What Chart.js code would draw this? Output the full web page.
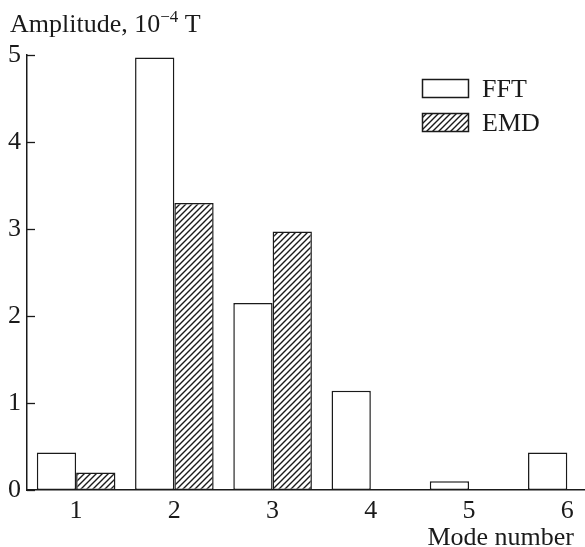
<!DOCTYPE html>
<html>
<head>
<meta charset="utf-8">
<script src="https://cdn.jsdelivr.net/npm/chart.js@4.4.1/dist/chart.umd.min.js"></script>
<style>
  html, body { margin: 0; padding: 0; background: #fff; }
  #wrap { width: 585px; height: 547px; position: relative; }
</style>
</head>
<body>
<div id="wrap"><canvas id="chart"></canvas></div>
<script>
const MODES = [1, 2, 3, 4, 5, 6];
const FFT = [0.43, 4.97, 2.15, 1.14, 0.10, 0.43];
const EMD = [0.20, 3.30, 2.97, 0, 0, 0];
const Y_TICKS = [0, 1, 2, 3, 4, 5];

const FONT = '"Liberation Serif", "Times New Roman", serif';
const INK = '#1a1a1a';

// diagonal hatch for the EMD bars
function hatch() {
    const c = document.createElement('canvas');
    c.width = 6; c.height = 6;
    const g = c.getContext('2d');
    g.fillStyle = '#fff';
    g.fillRect(0, 0, 6, 6);
    g.strokeStyle = INK;
    g.lineWidth = 1.4;
    g.beginPath();
    g.moveTo(-1, 7); g.lineTo(7, -1);
    g.moveTo(-4, 4); g.lineTo(4, -4);
    g.moveTo(2, 10); g.lineTo(10, 2);
    g.stroke();
    return g.createPattern(c, 'repeat');
}

const ctx = document.getElementById('chart').getContext('2d');
const hatchFill = hatch();

const extras = {
    id: 'extras',
    afterDraw(chart) {
        const c = chart.ctx;
        const y = chart.scales.y;
        c.save();
        // inward tick marks on the y axis
        c.strokeStyle = INK;
        c.lineWidth = 1.3;
        Y_TICKS.forEach(v => {
            const py = Math.round(y.getPixelForValue(v)) + 0.5;
            c.beginPath();
            c.moveTo(y.right, py);
            c.lineTo(y.right + 8, py);
            c.stroke();
        });

        // axis title with superscript
        c.fillStyle = INK;
        c.textBaseline = 'alphabetic';
        c.textAlign = 'left';
        c.font = '26px ' + FONT;
        let x = 10;
        const base = 32;
        c.fillText('Amplitude, 10', x, base);
        x += c.measureText('Amplitude, 10').width;
        c.font = '17px ' + FONT;
        c.fillText('\u22124', x, base - 10);
        x += c.measureText('\u22124').width;
        c.font = '26px ' + FONT;
        c.fillText(' T', x, base);

        // x axis title
        c.textAlign = 'right';
        c.fillText('Mode number', 574, 545);

        // legend
        c.textAlign = 'left';
        c.textBaseline = 'middle';
        chart.data.datasets.forEach((ds, i) => {
            const bx = 422, by = 79 + i * 34;
            c.fillStyle = ds.backgroundColor;
            c.fillRect(bx, by, 47, 19);
            c.lineWidth = 1.5;
            c.strokeStyle = INK;
            c.strokeRect(bx + 0.5, by + 0.5, 46, 18);
            c.fillStyle = INK;
            c.fillText(ds.label, 482, by + 11);
        });
        c.restore();
    }
};

new Chart(ctx, {
    type: 'bar',
    data: {
        datasets: [
            {
                label: 'FFT',
                data: MODES.map((m, i) => ({ x: m, y: FFT[i] })),
                backgroundColor: '#ffffff',
                borderColor: INK,
                borderWidth: 1.5,
                borderSkipped: false
            },
            {
                label: 'EMD',
                data: MODES.map((m, i) => ({ x: m, y: EMD[i] })),
                backgroundColor: hatchFill,
                borderColor: INK,
                borderWidth: 1.5,
                borderSkipped: false
            }
        ]
    },
    options: {
        responsive: true,
        maintainAspectRatio: false,
        animation: false,
        layout: { padding: { top: 55, right: 0, left: 0, bottom: 0 } },
        datasets: { bar: { categoryPercentage: 0.8, barPercentage: 1 } },
        scales: {
            x: {
                type: 'linear',
                offset: false,
                min: 0.5,
                max: 6.18,
                afterBuildTicks: axis => { axis.ticks = MODES.map(v => ({ value: v })); },
                afterFit: axis => { axis.height = 57; },
                grid: { display: false, drawTicks: false },
                border: { display: true, color: INK, width: 1.5 },
                ticks: {
                    color: INK,
                    font: { family: FONT, size: 26 },
                    padding: 6,
                    maxRotation: 0,
                    autoSkip: false
                }
            },
            y: {
                min: 0,
                max: 5,
                afterBuildTicks: axis => { axis.ticks = Y_TICKS.map(v => ({ value: v })); },
                afterFit: axis => { axis.width = 27; },
                grid: { display: false, drawTicks: false },
                border: { display: true, color: INK, width: 1.5 },
                ticks: {
                    color: INK,
                    font: { family: FONT, size: 26 },
                    padding: 6
                }
            }
        },
        plugins: {
            legend: { display: false },
            tooltip: { enabled: false }
        }
    },
    plugins: [extras]
});
</script>
</body>
</html>
